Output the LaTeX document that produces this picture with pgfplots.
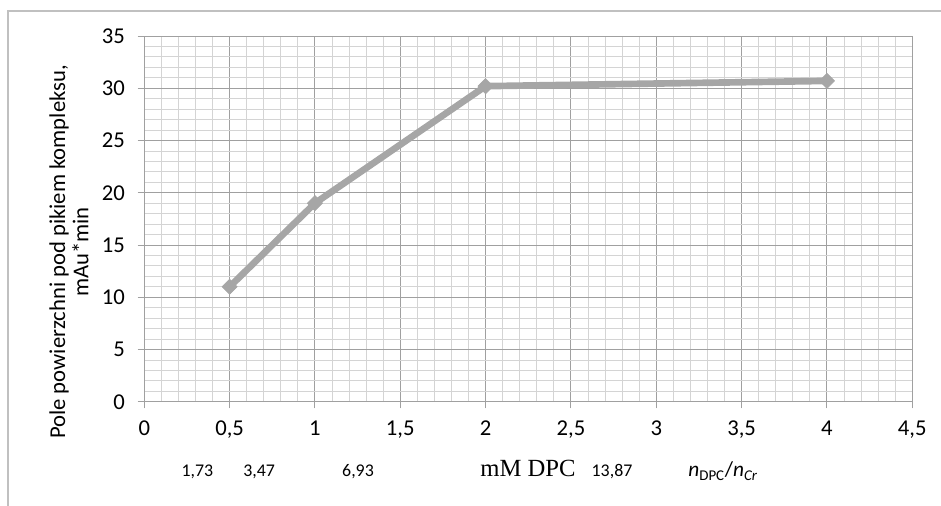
\documentclass[border=0pt]{standalone}
\usepackage{pgfplots}
\pgfplotsset{compat=1.18}
\usepackage{fontspec}
\setmainfont{Carlito}
\newfontfamily\timesfont{Liberation Serif}

\definecolor{linegray}{HTML}{A6A6A6}
\definecolor{majgrid}{HTML}{A0A0A0}
\definecolor{mingrid}{HTML}{D4D4D4}
\definecolor{framegray}{HTML}{C0C0C0}

\begin{document}
\begin{tikzpicture}[x=1pt,y=1pt]
\useasboundingbox (0,0) rectangle (705.75,379.5);
\draw[framegray, line width=1pt] (6,0) -- (6,371.25) -- (705.75,371.25);

\begin{axis}[
    at={(108.2pt,78.2pt)}, anchor=south west,
    scale only axis, width=576pt, height=274.3pt,
    xmin=0, xmax=4.5, ymin=0, ymax=35,
    xtick={0,0.5,1,1.5,2,2.5,3,3.5,4,4.5},
    ytick={0,5,10,15,20,25,30,35},
    minor x tick num=4, minor y tick num=4,
    grid=both,
    major grid style={draw=majgrid, line width=0.7pt},
    minor grid style={draw=mingrid, line width=0.6pt},
    axis line style={draw=majgrid, line width=0.7pt},
    tick style={draw=majgrid, line width=0.7pt},
    tick align=outside, major tick length=5pt, minor tick length=0pt,
    xtick pos=bottom, ytick pos=left,
    /pgf/number format/.cd, use comma, 1000 sep={}, assume math mode=true,
    /pgfplots/.cd,
    ticklabel style={font=\fontsize{17}{20}\selectfont, text=black},
    xticklabel style={yshift=-6pt},
    yticklabel style={xshift=-6pt},
    clip=false,
]
\addplot[color=linegray, line width=5pt, mark=square*,
    mark options={rotate=45, fill=linegray, draw=linegray, line width=0.5pt},
    mark size=4pt]
    coordinates {
    (0.5,11.0)
    (1,19.0)
    (2,30.2)
    (4,30.7)
};
\end{axis}

\node[rotate=90, align=center, font=\fontsize{17}{17.5}\selectfont]
    at (51.75,190.5) {Pole powierzchni pod pikiem kompleksu,\\mAu*min};

\begin{scope}[every node/.style={anchor=base, font=\fontsize{13.4}{15}\selectfont, inner sep=0pt}]
\node at (148.1,22) {1,73};
\node at (194.3,22) {3,47};
\node at (268.5,22) {6,93};
\node at (459,22) {13,87};
\node[font=\fontsize{18.5}{20}\timesfont] at (396,22) {mM DPC};
\node[font=\fontsize{16}{18}\selectfont] at (542.3,22)
    {\textit{n}\textsubscript{DPC}/\textit{n}\textsubscript{\textit{Cr}}};
\end{scope}
\end{tikzpicture}
\end{document}
